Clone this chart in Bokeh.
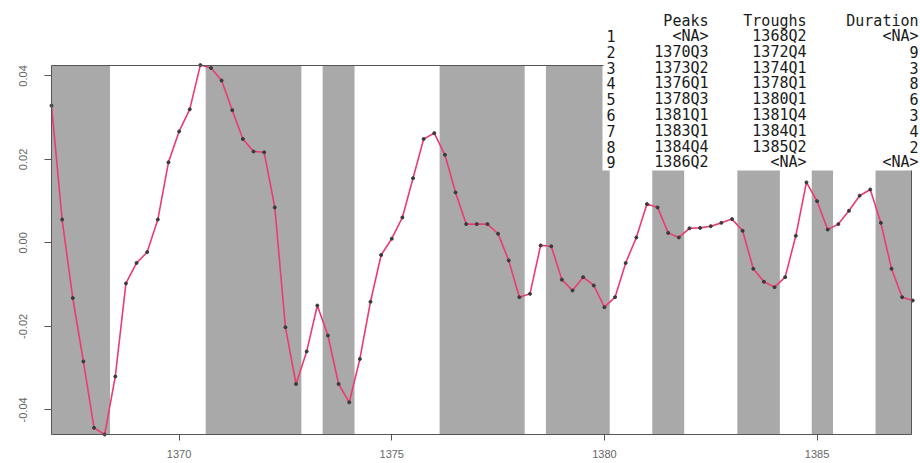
import numpy as np
from bokeh.plotting import figure
from bokeh.models import Range1d, FixedTicker, PrintfTickFormatter, Label
from bokeh.embed import file_html
from bokeh.resources import INLINE

# ---------------- data ----------------
start_year = 1367  # first observation: 1367Q1
values = [
    0.0329, 0.0056, -0.0132, -0.0284, -0.0443, -0.0459, -0.0320, -0.0097,
    -0.0048, -0.0022, 0.0056, 0.0193, 0.0267, 0.0320, 0.0426, 0.0419,
    0.0389, 0.0318, 0.0249, 0.0219, 0.0217, 0.0085, -0.0202, -0.0338,
    -0.0260, -0.0150, -0.0222, -0.0338, -0.0382, -0.0278, -0.0141, -0.0029,
    0.0010, 0.0061, 0.0155, 0.0249, 0.0263, 0.0211, 0.0121, 0.0045,
    0.0045, 0.0045, 0.0022, -0.0042, -0.0130, -0.0122, -0.0006, -0.0008,
    -0.0088, -0.0114, -0.0082, -0.0102, -0.0154, -0.0130, -0.0048, 0.0013,
    0.0093, 0.0085, 0.0024, 0.0013, 0.0035, 0.0036, 0.0040, 0.0048,
    0.0057, 0.0029, -0.0062, -0.0093, -0.0106, -0.0082, 0.0017, 0.0145,
    0.0100, 0.0032, 0.0045, 0.0077, 0.0113, 0.0128, 0.0048, -0.0062,
    -0.0130, -0.0138,
]
quarter_time = [start_year + i / 4 for i in range(len(values))]

header = ["Peaks", "Troughs", "Duration"]
row_names = ["1", "2", "3", "4", "5", "6", "7", "8", "9"]
peaks = ["<NA>", "1370Q3", "1373Q2", "1376Q1", "1378Q3", "1381Q1", "1383Q1", "1384Q4", "1386Q2"]
troughs = ["1368Q2", "1372Q4", "1374Q1", "1378Q1", "1380Q1", "1381Q4", "1384Q1", "1385Q2", "<NA>"]
durations = ["<NA>", "9", "3", "8", "6", "3", "4", "2", "<NA>"]

x_ticks = [1370, 1375, 1380, 1385]
y_ticks = [-0.04, -0.02, 0.0, 0.02, 0.04]

# ---------------- layout ----------------
X0, X1 = 1367.0, 1387.22       # plot box limits (data)
Y0, Y1 = -0.0459, 0.0425
W, H = 920, 463
BL, BT, BW, BH = 51, 65, 860, 369   # plot box in pixels
FRAME_L, FRAME_B = 48, 437          # drawing frame edges in pixels


def wx(px):
    return X0 + (px - BL) / BW * (X1 - X0)


def wy(py):
    return Y1 - (py - BT) / BH * (Y1 - Y0)


def qtime(s):
    return int(s[:4]) + (int(s[5]) - 1) / 4


p = figure(width=W, height=H, output_backend="svg", toolbar_location=None,
           x_range=Range1d(wx(FRAME_L), wx(W)), y_range=Range1d(wy(FRAME_B), wy(0)))
p.min_border_left = FRAME_L
p.min_border_top = 0
p.min_border_right = 0
p.min_border_bottom = H - FRAME_B
p.outline_line_color = None
p.grid.grid_line_color = None
p.background_fill_color = "white"
p.border_fill_color = "white"

# recession bands (peak -> trough)
shift = 0.125
band_l = [X0 if pk == "<NA>" else qtime(pk) + shift for pk in peaks]
band_r = [X1 if tr == "<NA>" else qtime(tr) + shift for tr in troughs]
p.quad(left=band_l, right=band_r, bottom=Y0, top=Y1,
       fill_color="#A9A9A9", line_color=None)

p.line(quarter_time, values, line_color="#EC3B6E", line_width=1.6)
p.scatter(quarter_time, values, size=3, color="#3a3a3a")

# white table background over the plot
p.quad(left=wx(602), right=wx(W), bottom=wy(170), top=wy(0),
       fill_color="white", line_color=None)

# plot box (left, bottom, top up to the table, right below the table)
p.segment(x0=[X0, X0, X0, X1], y0=[Y0, Y0, Y1, wy(170)],
          x1=[X0, X1, wx(603), X1], y1=[Y1, Y0, Y1, Y0],
          line_color="#555555", line_width=1)

# axes
for ax in (p.xaxis, p.yaxis):
    ax.axis_line_color = None
    ax.major_tick_line_color = "#555555"
    ax.minor_tick_line_color = None
    ax.major_tick_in = 3
    ax.major_label_text_color = "#666666"
    ax.major_label_text_font = "Liberation Sans"
    ax.major_label_text_font_size = "11px"
p.xaxis.ticker = FixedTicker(ticks=x_ticks)
p.xaxis.formatter = PrintfTickFormatter(format="%d")
p.xaxis.major_tick_out = 3
p.xaxis.major_label_standoff = 9
p.yaxis.ticker = FixedTicker(ticks=y_ticks)
p.yaxis.formatter = PrintfTickFormatter(format="%.2f")
p.yaxis.major_label_orientation = "vertical"
p.yaxis.major_tick_out = 4
p.yaxis.major_label_standoff = 17

# table text
tfont = "DejaVu Sans Mono"
tsize = "15px"
tcol = "#1a1a1a"
col_right = [708, 806, 918]
header_y = 20
row_y0, row_dy = 35.5, 15.8


def add_label(x, y, text, align):
    p.add_layout(Label(x=wx(x), y=wy(y), text=text, text_align=align,
                       text_baseline="middle", text_font=tfont,
                       text_font_size=tsize, text_color=tcol))


for h, xr in zip(header, col_right):
    add_label(xr, header_y, h, "right")
for i in range(len(row_names)):
    yy = row_y0 + i * row_dy
    add_label(606, yy, row_names[i], "left")
    add_label(col_right[0], yy, peaks[i], "right")
    add_label(col_right[1], yy, troughs[i], "right")
    add_label(col_right[2], yy, durations[i], "right")

open("out.html", "w").write(file_html(p, INLINE))
